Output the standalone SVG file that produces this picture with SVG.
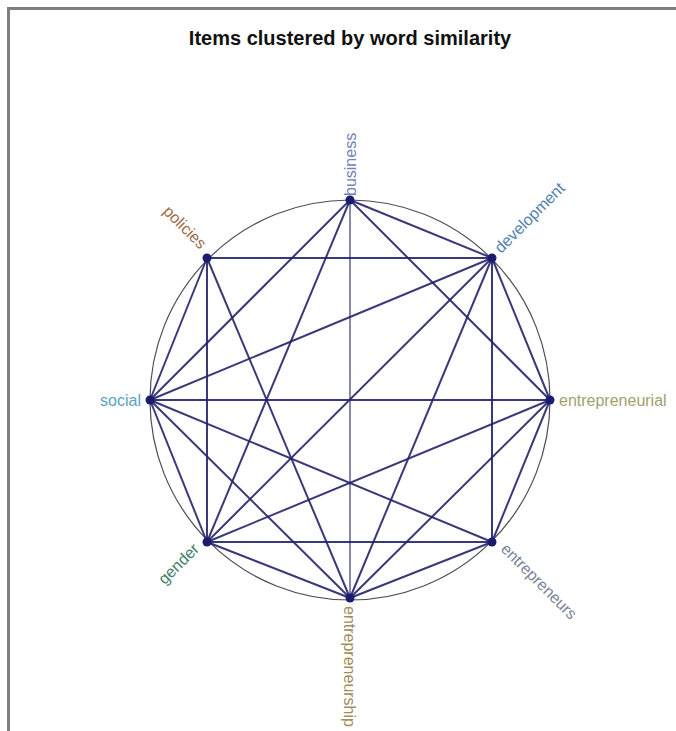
<svg xmlns="http://www.w3.org/2000/svg" width="676" height="731" viewBox="0 0 676 731">
<style>
.frame{stroke:#7f7f7f;stroke-width:3;fill:none}
.ring{fill:none;stroke:#4a4a5a;stroke-width:1.2}
.e{stroke:#23236a;stroke-width:2;stroke-opacity:0.9;fill:none}
.thin{stroke-width:1.2}
.dot{fill:#1c1c6e}
.lbl{font-family:"Liberation Sans",Arial,sans-serif;font-size:16px}
.title{font-family:"Liberation Sans",Arial,sans-serif;font-size:20px;font-weight:bold;fill:#111}
</style>
<rect width="676" height="731" fill="#ffffff"/>
<path class="frame" d="M8.5 731 V8.5 H676"/>
<text class="title" x="350" y="45" text-anchor="middle">Items clustered by word similarity</text>
<circle class="ring" cx="350" cy="400" r="200"/>
<g id="connectors">
<line class="e" x1="207" y1="258" x2="492" y2="258"/>
<line class="e" x1="207" y1="258" x2="207" y2="542"/>
<line class="e" x1="492" y1="258" x2="492" y2="542"/>
<line class="e" x1="207" y1="542" x2="492" y2="542"/>
<line class="e" x1="150" y1="400" x2="550" y2="400"/>
<line class="e thin" x1="350" y1="200" x2="350" y2="598"/>
<line class="e" x1="350" y1="200" x2="150" y2="400"/>
<line class="e" x1="350" y1="200" x2="207" y2="542"/>
<line class="e" x1="350" y1="200" x2="492" y2="258"/>
<line class="e" x1="350" y1="200" x2="550" y2="400"/>
<line class="e" x1="207" y1="258" x2="150" y2="400"/>
<line class="e" x1="207" y1="258" x2="350" y2="598"/>
<line class="e" x1="492" y1="258" x2="150" y2="400"/>
<line class="e" x1="492" y1="258" x2="207" y2="542"/>
<line class="e" x1="492" y1="258" x2="350" y2="598"/>
<line class="e" x1="492" y1="258" x2="550" y2="400"/>
<line class="e" x1="150" y1="400" x2="207" y2="542"/>
<line class="e" x1="150" y1="400" x2="492" y2="542"/>
<line class="e" x1="150" y1="400" x2="350" y2="598"/>
<line class="e" x1="207" y1="542" x2="350" y2="598"/>
<line class="e" x1="207" y1="542" x2="550" y2="400"/>
<line class="e" x1="350" y1="598" x2="492" y2="542"/>
<line class="e" x1="350" y1="598" x2="550" y2="400"/>
<line class="e" x1="492" y1="542" x2="550" y2="400"/>
</g>
<g id="business"><circle class="dot" cx="350" cy="200" r="4.5"/><text class="lbl" fill="#7383b5" transform="translate(356,196) rotate(-90)">business</text></g>
<g id="development"><circle class="dot" cx="492" cy="258" r="4.5"/><text class="lbl" fill="#4f7fae" transform="translate(501,254) rotate(-45)">development</text></g>
<g id="entrepreneurial"><circle class="dot" cx="550" cy="400" r="4.5"/><text class="lbl" fill="#a3a06c" x="559" y="406">entrepreneurial</text></g>
<g id="entrepreneurs"><circle class="dot" cx="492" cy="542" r="4.5"/><text class="lbl" fill="#7c8298" transform="translate(500,550) rotate(45)">entrepreneurs</text></g>
<g id="entrepreneurship"><circle class="dot" cx="350" cy="598" r="4.5"/><text class="lbl" fill="#9c8f5c" transform="translate(344,606) rotate(90)">entrepreneurship</text></g>
<g id="gender"><circle class="dot" cx="207" cy="542" r="4.5"/><text class="lbl" fill="#3f7d6a" text-anchor="end" transform="translate(200,550) rotate(-45)">gender</text></g>
<g id="social"><circle class="dot" cx="150" cy="400" r="4.5"/><text class="lbl" fill="#5d9fc0" text-anchor="end" x="141" y="406">social</text></g>
<g id="policies"><circle class="dot" cx="207" cy="258" r="4.5"/><text class="lbl" fill="#a06a4c" text-anchor="end" transform="translate(200,250) rotate(45)">policies</text></g>
</svg>
